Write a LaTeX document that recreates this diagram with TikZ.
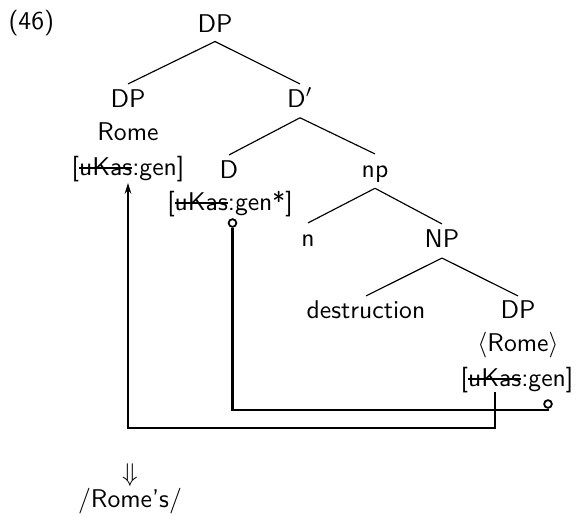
\documentclass[tikz,border=0pt]{standalone}
\usepackage{fontspec}
\usetikzlibrary{arrows.meta}
\newcommand\ukstrike[1]{\setbox0\hbox{#1}\rlap{\rule[0.55ex]{\wd0}{0.075em}}#1}
\begin{document}
\begin{tikzpicture}[x=0.39pt,y=-0.39pt,font=\sffamily,
  lbl/.style={anchor=base,inner sep=0pt},
  br/.style={line width=0.45pt},
  conn/.style={line width=0.8pt},
  ring/.style={circle,draw,line width=0.7pt,inner sep=0pt,minimum size=3pt}]
\useasboundingbox (0,0) rectangle (577,516);
% labels
\node[lbl,anchor=base west] (ex) at (8,29) {(46)};
\node[lbl] (root) at (215,32) {DP};
\node[lbl] (dpl) at (128,107) {DP};
\node[lbl] (rome) at (128,140) {Rome};
\node[lbl] (fl) at (128,175) {[\ukstrike{uKas}:gen]};
\node[lbl] (dbar) at (300,107) {D$'$};
\node[lbl] (d) at (229,178) {D};
\node[lbl] (fd) at (230,210) {[\ukstrike{uKas}:gen*]};
\node[lbl] (np) at (375,177) {np};
\node[lbl] (n) at (308,246) {n};
\node[lbl] (NP) at (442,247) {NP};
\node[lbl] (destr) at (366,318) {destruction};
\node[lbl] (dpr) at (518,318) {DP};
\node[lbl] (romer) at (518,351) {$\langle$Rome$\rangle$};
\node[lbl] (fr) at (517,386) {[\ukstrike{uKas}:gen]};
\node[lbl] (arr) at (130,481) {$\Downarrow$};
\node[lbl] (pf) at (130,507) {/Rome's/};
% tree branches
\draw[br] ([yshift=-3.7pt]root.base) -- ([yshift=9pt]dpl.base);
\draw[br] ([yshift=-3.7pt]root.base) -- ([yshift=9pt]dbar.base);
\draw[br] ([yshift=-4.2pt]dbar.base) -- ([yshift=9pt]d.base);
\draw[br] ([yshift=-4.2pt]dbar.base) -- ([yshift=9pt]np.base);
\draw[br] ([yshift=-4.4pt]np.base) -- ([yshift=9pt]n.base);
\draw[br] ([yshift=-4.4pt]np.base) -- ([yshift=9pt]NP.base);
\draw[br] ([yshift=-4.3pt]NP.base) -- ([yshift=8.6pt]destr.base);
\draw[br] ([yshift=-4.3pt]NP.base) -- ([yshift=8.6pt]dpr.base);
% connectors
\coordinate (s1) at (495,392);
\coordinate (t1) at (128,183);
\draw[conn,-{Stealth[length=4.2pt,width=2.6pt]}] (s1) -- ++(0,36) -| (t1);
\node[ring] (c1) at (232.5,223) {};
\node[ring] (c2) at (548,404) {};
\coordinate (b2) at (548,410);
\draw[conn] (c1.south) |- (b2) -- (c2.south);
\end{tikzpicture}
\end{document}
